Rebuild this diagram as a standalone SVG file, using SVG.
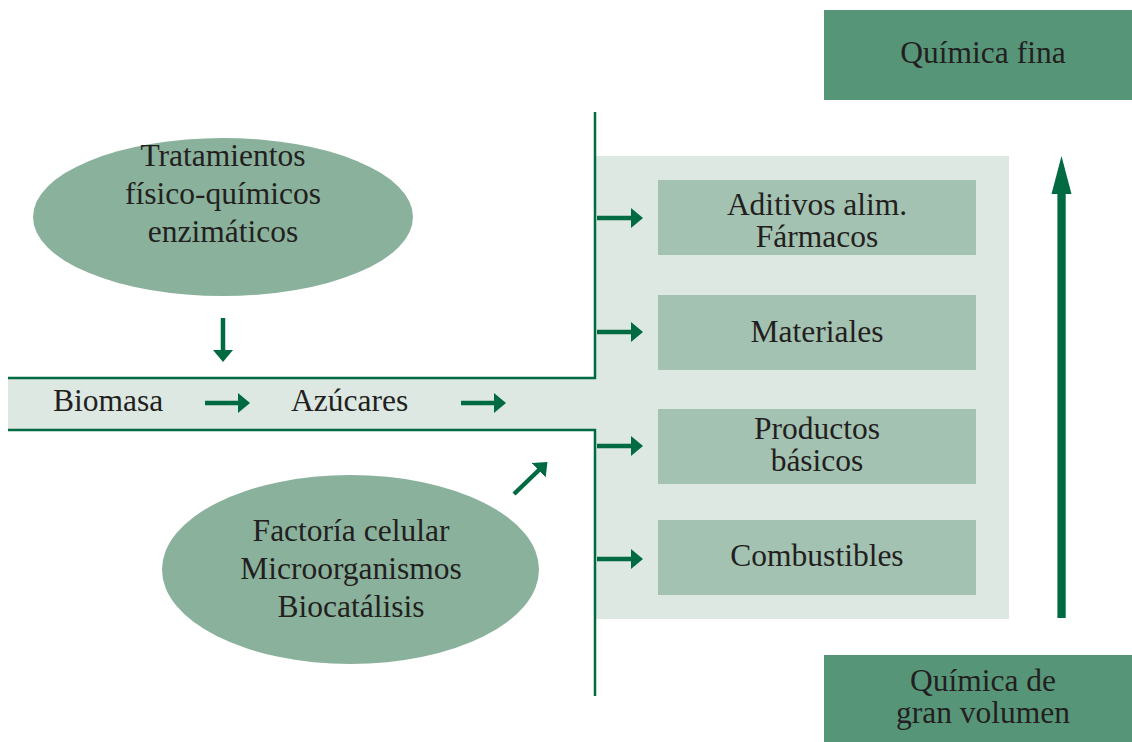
<svg xmlns="http://www.w3.org/2000/svg" width="1132" height="742" viewBox="0 0 1132 742">
  <style>
    .t { font-family: "Liberation Serif", "Times New Roman", serif; font-size: 31.5px; fill: #231f20; text-anchor: middle; }
    .tl { text-anchor: start; }
    .ell { fill: #8ab19c; }
    .box { fill: #a3c2b2; }
    .dark { fill: #579579; }
    .light { fill: #dce8e1; }
    .frame { stroke: #006a42; stroke-width: 2.5; fill: none; }
    .arr { stroke: #006a42; stroke-width: 4.5; fill: none; marker-end: url(#head); }
  </style>
  <defs>
    <marker id="head" markerUnits="userSpaceOnUse" markerWidth="14" markerHeight="22" refX="1" refY="10" orient="auto">
      <path d="M0,0 L12,10 L0,20 Z" fill="#006a42"/>
    </marker>
  </defs>
  <rect width="1132" height="742" fill="#ffffff"/>

  <!-- background corridor and panel -->
  <g id="corridor">
    <rect class="light" x="8" y="378" width="590" height="52"/>
    <rect class="light" x="596" y="156" width="413" height="463"/>
  </g>

  <g id="frame-lines">
    <path class="frame" d="M8,378 H595 V112"/>
    <path class="frame" d="M8,430 H595 V696"/>
  </g>

  <g id="node-tratamientos">
    <ellipse class="ell" cx="223" cy="217" rx="190" ry="79"/>
    <text class="t" x="223" y="166">Tratamientos</text>
    <text class="t" x="223" y="204">físico-químicos</text>
    <text class="t" x="223" y="242">enzimáticos</text>
  </g>

  <g id="node-factoria">
    <ellipse class="ell" cx="350.5" cy="569.5" rx="188.5" ry="94.5"/>
    <text class="t" x="351" y="541">Factoría celular</text>
    <text class="t" x="351" y="579">Microorganismos</text>
    <text class="t" x="351" y="617">Biocatálisis</text>
  </g>

  <g id="node-biomasa">
    <text class="t tl" x="53" y="411">Biomasa</text>
  </g>
  <g id="node-azucares">
    <text class="t tl" x="291" y="411">Azúcares</text>
  </g>

  <g id="node-aditivos">
    <rect class="box" x="658" y="180" width="318" height="75"/>
    <text class="t" x="817" y="215">Aditivos alim.</text>
    <text class="t" x="817" y="247">Fármacos</text>
  </g>
  <g id="node-materiales">
    <rect class="box" x="658" y="295" width="318" height="75"/>
    <text class="t" x="817" y="342">Materiales</text>
  </g>
  <g id="node-productos">
    <rect class="box" x="658" y="409" width="318" height="75"/>
    <text class="t" x="817" y="439">Productos</text>
    <text class="t" x="817" y="471">básicos</text>
  </g>
  <g id="node-combustibles">
    <rect class="box" x="658" y="520" width="318" height="75"/>
    <text class="t" x="817" y="566">Combustibles</text>
  </g>

  <g id="node-quimica-fina">
    <rect class="dark" x="824" y="10" width="308" height="90"/>
    <text class="t" x="983" y="63">Química fina</text>
  </g>
  <g id="node-quimica-gran-volumen">
    <rect class="dark" x="824" y="655" width="308" height="87"/>
    <text class="t" x="983" y="691">Química de</text>
    <text class="t" x="983" y="723">gran volumen</text>
  </g>

  <g id="connectors">
    <line class="arr" x1="223" y1="318" x2="223" y2="351"/>
    <line class="arr" x1="205" y1="403" x2="239" y2="403"/>
    <line class="arr" x1="461" y1="403" x2="495" y2="403"/>
    <line class="arr" x1="514" y1="494" x2="539.5" y2="469.5"/>
    <line class="arr" x1="597" y1="218" x2="632" y2="218"/>
    <line class="arr" x1="597" y1="332" x2="632" y2="332"/>
    <line class="arr" x1="597" y1="446" x2="632" y2="446"/>
    <line class="arr" x1="597" y1="559" x2="632" y2="559"/>
    <rect x="1057.4" y="190" width="8.3" height="428" fill="#006a42"/>
    <polygon points="1061.5,156 1071.5,194 1051.5,194" fill="#006a42"/>
  </g>
</svg>
